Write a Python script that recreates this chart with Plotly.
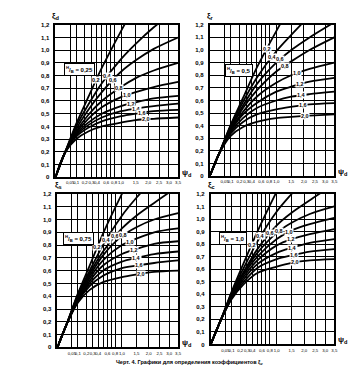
import numpy as np
import plotly.graph_objects as go

# ---------------- data ----------------
psi = [0, 0.02, 0.1, 0.25, 0.5, 1.0, 1.5, 2.25, 3.5]
curve_names = ["0,2", "0,4", "0,6", "0,8", "1,0", "1,2", "1,4", "1,6", "2,0"]

xi_hb025 = [
    [0, 0.19, 0.42, 0.63, 0.86, 1.15, 1.36, 1.60, 1.90],
    [0, 0.19, 0.40, 0.57, 0.74, 0.93, 1.05, 1.18, 1.33],
    [0, 0.19, 0.38, 0.53, 0.67, 0.83, 0.92, 1.01, 1.10],
    [0, 0.19, 0.36, 0.49, 0.60, 0.71, 0.78, 0.84, 0.90],
    [0, 0.19, 0.35, 0.46, 0.55, 0.63, 0.67, 0.71, 0.75],
    [0, 0.19, 0.34, 0.43, 0.50, 0.56, 0.59, 0.62, 0.64],
    [0, 0.19, 0.33, 0.41, 0.47, 0.52, 0.54, 0.56, 0.58],
    [0, 0.19, 0.32, 0.39, 0.44, 0.48, 0.50, 0.52, 0.53],
    [0, 0.19, 0.30, 0.36, 0.40, 0.43, 0.45, 0.46, 0.47],
]
xi_hb05 = [
    [0, 0.18, 0.41, 0.62, 0.86, 1.15, 1.36, 1.60, 1.90],
    [0, 0.18, 0.40, 0.59, 0.78, 0.99, 1.12, 1.27, 1.45],
    [0, 0.18, 0.39, 0.56, 0.73, 0.90, 1.00, 1.10, 1.22],
    [0, 0.18, 0.38, 0.54, 0.68, 0.83, 0.91, 1.00, 1.10],
    [0, 0.18, 0.37, 0.51, 0.63, 0.74, 0.80, 0.85, 0.90],
    [0, 0.18, 0.36, 0.49, 0.58, 0.67, 0.71, 0.75, 0.78],
    [0, 0.18, 0.35, 0.46, 0.54, 0.60, 0.63, 0.65, 0.67],
    [0, 0.18, 0.34, 0.43, 0.49, 0.53, 0.55, 0.57, 0.58],
    [0, 0.18, 0.32, 0.39, 0.43, 0.46, 0.47, 0.48, 0.49],
]
xi_hb075 = [
    [0, 0.18, 0.42, 0.64, 0.89, 1.20, 1.42, 1.68, 2.00],
    [0, 0.18, 0.41, 0.60, 0.80, 1.03, 1.17, 1.32, 1.50],
    [0, 0.18, 0.40, 0.58, 0.75, 0.93, 1.03, 1.13, 1.26],
    [0, 0.18, 0.39, 0.56, 0.72, 0.87, 0.94, 1.00, 1.05],
    [0, 0.18, 0.38, 0.54, 0.68, 0.80, 0.85, 0.90, 0.93],
    [0, 0.18, 0.37, 0.52, 0.64, 0.73, 0.77, 0.81, 0.83],
    [0, 0.18, 0.36, 0.50, 0.60, 0.67, 0.70, 0.73, 0.75],
    [0, 0.18, 0.36, 0.48, 0.56, 0.62, 0.64, 0.66, 0.68],
    [0, 0.18, 0.35, 0.45, 0.51, 0.55, 0.57, 0.59, 0.60],
]
xi_hb10 = [
    [0, 0.18, 0.42, 0.65, 0.90, 1.22, 1.45, 1.72, 2.05],
    [0, 0.18, 0.41, 0.61, 0.82, 1.06, 1.20, 1.36, 1.55],
    [0, 0.18, 0.40, 0.58, 0.76, 0.95, 1.05, 1.15, 1.28],
    [0, 0.18, 0.39, 0.57, 0.73, 0.89, 0.97, 1.04, 1.10],
    [0, 0.18, 0.39, 0.56, 0.70, 0.84, 0.91, 0.96, 1.01],
    [0, 0.18, 0.38, 0.54, 0.67, 0.79, 0.84, 0.88, 0.92],
    [0, 0.18, 0.37, 0.52, 0.64, 0.73, 0.77, 0.81, 0.84],
    [0, 0.18, 0.37, 0.50, 0.61, 0.68, 0.71, 0.74, 0.76],
    [0, 0.18, 0.36, 0.48, 0.57, 0.62, 0.65, 0.67, 0.68],
]

x_tick_vals = [0.05, 0.1, 0.2, 0.3, 0.4, 0.5, 0.6, 0.7, 0.8, 1.0, 1.5, 2.0, 2.5, 3.0, 3.5]
x_tick_text = ["0,05", "0,1", "0,2", "0,3", "0,4", " ", "0,6", " ", "0,8", "1,0",
               "1,5", "2,0", "2,5", "3,0", "3,5"]
y_tick_vals = [0, 0.1, 0.2, 0.3, 0.4, 0.5, 0.6, 0.7, 0.8, 0.9, 1.0, 1.1, 1.2]
y_tick_text = ["0", "0,1", "0,2", "0,3", "0,4", "0,5", "0,6", "0,7", "0,8", "0,9",
               "1,0", "1,1", "1,2"]

ratio_labels = ["0,25", "0,5", "0,75", "1,0"]
y_titles = ["ξ<sub>d</sub>", "ξ<sub>r</sub>", "ξ<sub>s</sub>", "ξ<sub>c</sub>"]
caption = "Черт. 4. Графики для определения коэффициентов ξ<sub>y</sub>"

# ---------------- layout ----------------
W, H = 356, 365
def px(x): return x / W
def py(y): return 1 - y / H

panels = [
    dict(data=xi_hb025, xd=(48, 172), yd=(169, 14), box=(57, 59),
         lab_u=[0.62, 0.79, 0.88, 0.97, 1.09, 1.15, 1.23, 1.32, 1.38]),
    dict(data=xi_hb05, xd=(204, 330), yd=(168, 14), box=(219, 60),
         lab_u=[0.86, 0.94, 1.06, 1.13, 1.31, 1.35, 1.38, 1.40, 1.43]),
    dict(data=xi_hb075, xd=(50, 172), yd=(342, 186), box=(56, 231),
         lab_u=[0.62, 0.76, 0.90, 1.02, 1.12, 1.18, 1.22, 1.26, 1.30]),
    dict(data=xi_hb10, xd=(205, 330), yd=(339, 186), box=(213, 231),
         lab_u=[0.62, 0.76, 0.90, 1.04, 1.18, 1.22, 1.24, 1.26, 1.28]),
]

fig = go.Figure()
u = np.sqrt(psi)
umax = float(np.sqrt(3.5))
annotations = []
font_family = "Liberation Sans, Arial, sans-serif"

for i, p in enumerate(panels):
    n = i + 1
    xa = "x" if n == 1 else f"x{n}"
    ya = "y" if n == 1 else f"y{n}"
    for name, vals in zip(curve_names, p["data"]):
        fig.add_trace(go.Scatter(x=u, y=vals, mode="lines", xaxis=xa, yaxis=ya,
                                 line=dict(color="black", width=1.8, shape="spline",
                                           smoothing=0.8),
                                 name=name, showlegend=False, hoverinfo="skip"))
    # curve labels
    for name, vals, lu in zip(curve_names, p["data"], p["lab_u"]):
        ly = float(np.interp(lu, u, vals))
        annotations.append(dict(x=lu, y=ly, xref=xa, yref=ya, text=name,
                                showarrow=False, bgcolor="white",
                                borderpad=0,
                                font=dict(size=5.5, color="black", family=font_family,
                                          weight="bold")))
    axis_common = dict(showgrid=True, gridcolor="black", gridwidth=1.1,
                       showline=True, linecolor="black", linewidth=2, mirror=True,
                       zeroline=False, ticks="", fixedrange=True)
    fig.update_layout(**{
        ("xaxis" if n == 1 else f"xaxis{n}"): dict(
            domain=[px(p["xd"][0]), px(p["xd"][1])], range=[0, umax],
            anchor=ya, tickmode="array", tickvals=list(np.sqrt(x_tick_vals)),
            ticktext=x_tick_text, tickangle=0,
            tickfont=dict(size=4.3, color="black", family=font_family),
            **axis_common),
        ("yaxis" if n == 1 else f"yaxis{n}"): dict(
            domain=[py(p["yd"][0]), py(p["yd"][1])], range=[0, 1.2],
            anchor=xa, tickmode="array", tickvals=y_tick_vals, ticktext=y_tick_text,
            tickfont=dict(size=6, color="black", family=font_family, weight="bold"),
            ticklabelstandoff=3,
            **axis_common),
    })
    # ratio box
    annotations.append(dict(x=px(p["box"][0]), y=py(p["box"][1]), xref="paper",
                            yref="paper", xanchor="left", yanchor="middle",
                            text=f"<sup>H</sup>/<sub>B</sub> = {ratio_labels[i]}",
                            showarrow=False, bgcolor="white", bordercolor="black",
                            borderwidth=1, borderpad=1,
                            font=dict(size=6, color="black", family=font_family,
                                      weight="bold")))
    # y title
    annotations.append(dict(x=px(p["xd"][0] + 1), y=py(p["yd"][1] - 9), xref="paper",
                            yref="paper", xanchor="center", yanchor="middle",
                            text=y_titles[i], showarrow=False,
                            font=dict(size=8, color="black", family=font_family,
                                      weight="bold")))
    # x title
    annotations.append(dict(x=px(p["xd"][1] + 9), y=py(p["yd"][0] - 4), xref="paper",
                            yref="paper", xanchor="center", yanchor="middle",
                            text="ψ<sub>d</sub>", showarrow=False,
                            font=dict(size=8, color="black", family=font_family,
                                      weight="bold")))

annotations.append(dict(x=px(184), y=py(357), xref="paper", yref="paper",
                        xanchor="center", yanchor="middle", text=caption,
                        showarrow=False,
                        font=dict(size=5.5, color="black", family=font_family,
                                  weight="bold")))

fig.update_layout(width=W, height=H, margin=dict(l=0, r=0, t=0, b=0),
                  paper_bgcolor="white", plot_bgcolor="white",
                  annotations=annotations, showlegend=False)

fig.write_html("out.html", config={"displayModeBar": False})
